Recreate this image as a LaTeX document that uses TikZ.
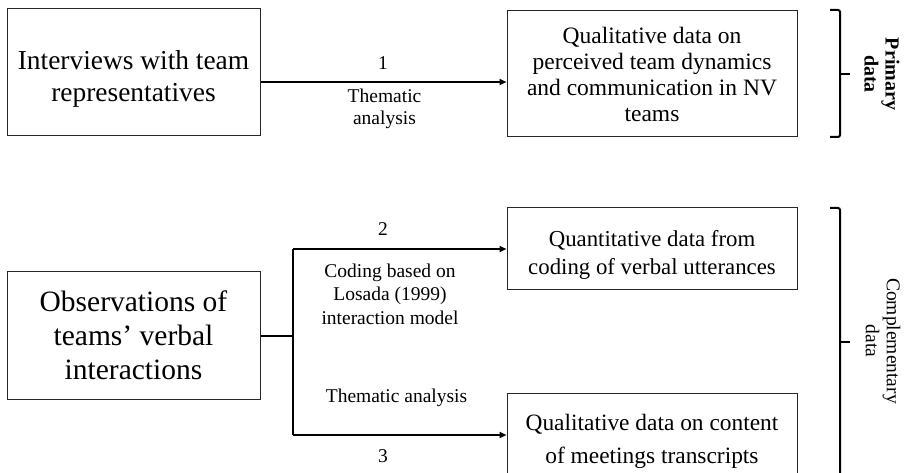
\documentclass[tikz,border=0pt]{standalone}
\usepackage{fontspec}
\setmainfont{Liberation Serif}
\usetikzlibrary{arrows.meta}
\newcommand{\lift}[1]{\rule{0pt}{#1}}
\begin{document}
\begin{tikzpicture}[x=1pt,y=-1pt,
  box/.style={draw=black!85,line width=1pt,inner sep=0pt,align=center},
  flow/.style={line width=2pt,-{Triangle[length=7pt,width=6pt]}},
  branch/.style={line width=2pt},
  lbl/.style={inner sep=0pt,align=center,font=\fontsize{19.5}{22.5}\selectfont},
  bracket/.style={line width=2pt,rounded corners=2pt},
  side/.style={inner sep=0pt,align=center,rotate=-90,font=\fontsize{19.5}{21}\selectfont}]
  \useasboundingbox (0,0) rectangle (906,473);
  \clip (0,0) rectangle (906,473);

  % data sources
  \node[box,minimum width=253pt,minimum height=127pt,font=\fontsize{27.4}{32}\selectfont]
    (A) at (133.5,72.5) {\lift{32pt}Interviews with team\\representatives};
  \node[box,minimum width=253pt,minimum height=127pt,font=\fontsize{29.5}{34}\selectfont]
    (C) at (133.5,335.5) {Observations of\\teams’ verbal\\interactions};

  % resulting data
  \node[box,minimum width=290pt,minimum height=126pt,font=\fontsize{23.5}{26}\selectfont]
    (B) at (652,74) {Qualitative data on\\perceived team dynamics\\and communication in NV\\teams};
  \node[box,minimum width=290pt,minimum height=82pt,font=\fontsize{22.8}{28}\selectfont]
    (D) at (652,249) {\lift{28pt}Quantitative data from\\coding of verbal utterances};
  \node[box,minimum width=290pt,minimum height=82pt,font=\fontsize{23.4}{33}\selectfont]
    (E) at (652,435) {\lift{30pt}Qualitative data on content\\of meetings transcripts};

  % connector 1
  \coordinate (y1) at (0,82);
  \draw[flow] (A.east |- y1) -- (B.west |- y1);
  \node[lbl] (n1) at (383,63) {1};
  \node[lbl] (t1) at (384.5,109) {Thematic\\analysis};

  % connectors 2 and 3
  \coordinate (fork) at (293,336);
  \draw[branch] (C.east |- fork) -- (fork);
  \draw[branch] (fork |- D.west) -- (fork |- E.west);
  \draw[flow] (fork |- D.west) -- (D.west);
  \draw[flow] (fork |- E.west) -- (E.west);
  \node[lbl] (n2) at (383,229) {2};
  \node[lbl,font=\fontsize{19.5}{23.5}\selectfont] (t2) at (390,294) {Coding based on\\Losada (1999)\\interaction model};
  \node[lbl] (t3) at (396.5,398) {Thematic analysis};
  \node[lbl] (n3) at (383,456) {3};

  % brackets with their captions
  \coordinate (b1t) at (840,10);
  \coordinate (b1b) at (840,137);
  \coordinate (b1m) at (840,74);
  \draw[bracket] ([xshift=-10pt]b1t) -- (b1t) -- (b1b) -- ([xshift=-10pt]b1b);
  \draw[line width=2pt] (b1m) -- ++(10,0);
  \node[side,font=\fontsize{20}{21}\selectfont\bfseries] (p) at (882,74) {Primary\\data};

  \coordinate (b2t) at (840,208);
  \coordinate (b2b) at (840,476);
  \coordinate (b2m) at (840,342);
  \draw[bracket] ([xshift=-10pt]b2t) -- (b2t) -- (b2b) -- ([xshift=-10pt]b2b);
  \draw[line width=2pt] (b2m) -- ++(10,0);
  \node[side] (c) at (883,341) {Complementary\\data};
\end{tikzpicture}
\end{document}
